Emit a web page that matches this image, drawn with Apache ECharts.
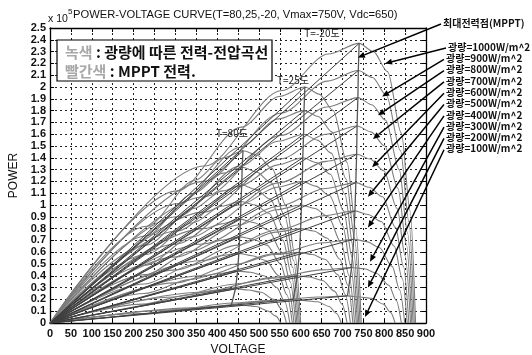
<!DOCTYPE html>
<html><head><meta charset="utf-8">
<script src="https://cdn.jsdelivr.net/npm/echarts@6/dist/echarts.min.js"></script>
<style>html,body{margin:0;padding:0;background:#fff}#c{width:532px;height:355px}</style>
</head><body><div id="c"></div>
<script>
// ---- data (power in units of 10^5 W) ----
var irradiance = ['1000','900','800','700','600','500','400','300','200','100'];
var irrLabels = ['광량=1000W/m^2','광량=900W/m^2','광량=800W/m^2','광량=700W/m^2','광량=600W/m^2','광량=500W/m^2','광량=400W/m^2','광량=300W/m^2','광량=200W/m^2','광량=100W/m^2'];
var yTicks = [0,0.1,0.2,0.3,0.4,0.5,0.6,0.7,0.8,0.9,1,1.1,1.2,1.3,1.4,1.5,1.6,1.7,1.8,1.9,2,2.1,2.2,2.3,2.4,2.5];

var vM20 = [
[0,370,555,666,740,774,808,841,862,875],
[0,369,554,664,738,772,805,839,859,872],
[0,369,553,663,737,770,803,836,856,869],
[0,368,551,662,735,768,801,833,853,866],
[0,367,551,661,734,766,799,831,850,863],
[0,366,549,659,732,764,796,827,846,859],
[0,365,548,657,730,761,793,824,843,855],
[0,364,545,654,727,758,788,819,837,849],
[0,361,542,650,722,752,782,811,829,841],
[0,356,534,641,712,741,769,798,815,826]];
var pM20 = [
[0,1.33,1.97,2.28,2.37,2.30,2.13,1.61,0.95,0],
[0,1.20,1.78,2.05,2.14,2.08,1.93,1.46,0.86,0],
[0,1.07,1.59,1.83,1.91,1.85,1.72,1.30,0.76,0],
[0,0.94,1.39,1.60,1.67,1.62,1.50,1.14,0.67,0],
[0,0.80,1.19,1.37,1.43,1.39,1.29,0.97,0.57,0],
[0,0.67,0.99,1.14,1.19,1.15,1.07,0.81,0.48,0],
[0,0.53,0.79,0.91,0.95,0.92,0.86,0.65,0.38,0],
[0,0.40,0.59,0.68,0.71,0.69,0.64,0.48,0.28,0],
[0,0.26,0.39,0.45,0.47,0.46,0.42,0.32,0.19,0],
[0,0.13,0.19,0.22,0.23,0.22,0.21,0.16,0.09,0]];

var v25 = [
[0,305,458,549,610,644,678,711,732,745],
[0,304,456,547,608,642,675,709,729,742],
[0,304,455,546,607,640,673,706,726,739],
[0,303,454,545,605,638,671,703,723,736],
[0,302,453,544,604,636,669,701,720,733],
[0,301,452,542,602,634,666,697,716,729],
[0,300,450,540,600,631,663,694,713,725],
[0,299,448,537,597,628,658,689,707,719],
[0,296,444,533,592,622,652,681,699,711],
[0,291,437,524,582,611,640,668,686,697]];
var p25 = [
[0,1.12,1.66,1.92,2.00,1.94,1.80,1.36,0.80,0],
[0,1.01,1.49,1.73,1.80,1.75,1.62,1.22,0.72,0],
[0,0.90,1.33,1.54,1.60,1.55,1.44,1.09,0.64,0],
[0,0.78,1.16,1.34,1.40,1.36,1.26,0.95,0.56,0],
[0,0.67,1.00,1.15,1.20,1.16,1.08,0.82,0.48,0],
[0,0.56,0.83,0.96,1.00,0.97,0.90,0.68,0.40,0],
[0,0.45,0.66,0.77,0.80,0.78,0.72,0.54,0.32,0],
[0,0.34,0.50,0.58,0.60,0.58,0.54,0.41,0.24,0],
[0,0.22,0.33,0.38,0.40,0.39,0.36,0.27,0.16,0],
[0,0.11,0.17,0.19,0.20,0.19,0.18,0.14,0.08,0]];

var v80 = [
[0,231,347,416,462,497,531,566,586,600],
[0,230,345,414,460,494,529,563,583,597],
[0,230,344,413,459,493,527,560,581,594],
[0,229,343,411,457,491,524,558,578,591],
[0,228,342,410,456,489,522,555,575,588],
[0,227,341,409,454,487,519,552,571,584],
[0,226,339,407,452,484,516,548,567,580],
[0,225,337,404,449,480,512,543,562,574],
[0,222,333,400,444,475,505,536,554,566],
[0,217,326,391,434,464,493,523,540,552]];
var p80 = [
[0,0.82,1.21,1.40,1.46,1.42,1.31,0.99,0.58,0],
[0,0.74,1.10,1.27,1.32,1.28,1.19,0.90,0.53,0],
[0,0.66,0.97,1.12,1.17,1.13,1.05,0.80,0.47,0],
[0,0.58,0.85,0.99,1.03,1.00,0.93,0.70,0.41,0],
[0,0.49,0.73,0.84,0.88,0.85,0.79,0.60,0.35,0],
[0,0.41,0.61,0.70,0.73,0.71,0.66,0.50,0.29,0],
[0,0.33,0.49,0.57,0.59,0.57,0.53,0.40,0.24,0],
[0,0.25,0.37,0.42,0.44,0.43,0.40,0.30,0.18,0],
[0,0.16,0.24,0.28,0.29,0.28,0.26,0.20,0.12,0],
[0,0.08,0.12,0.14,0.15,0.15,0.14,0.10,0.06,0]];

var mppIndex = 4; // position of the maximum power point in each curve list

// arrow heads (data coords) for the irradiance annotations, and for the MPPT label
var arrowHeadV = [802,795,785,773,771,761,761,766,761,754];
var arrowHeadP = [2.20,1.92,1.76,1.56,1.32,1.07,0.81,0.52,0.30,0.05];
var mpptHeadV = 737, mpptHeadP = 2.25;

// ---- chart ----
var GREEN = '#7c7c7c', RED = '#404040';
var chart = echarts.init(document.getElementById('c'), null, {renderer:'canvas'});
var series = [];
var families = [[vM20,pM20],[v25,p25],[v80,p80]];
families.forEach(function(f){
  var V=f[0], P=f[1];
  for (var i=0;i<V.length;i++){
    var d=[]; for (var k=0;k<V[i].length;k++) d.push([V[i][k],P[i][k]]);
    series.push({type:'line',data:d,showSymbol:false,symbol:'none',smooth:0.3,smoothMonotone:'x',
      lineStyle:{color:GREEN,width:1.1},silent:true,z:2});
  }
});
families.forEach(function(f){
  var V=f[0], P=f[1], locus=[];
  for (var i=0;i<V.length;i++){
    series.push({type:'line',data:[[V[i][0],P[i][0]],[V[i][mppIndex],P[i][mppIndex]]],symbol:'none',
      lineStyle:{color:RED,width:1},silent:true,z:3});
    locus.push([V[i][mppIndex],P[i][mppIndex]]);
  }
  series.push({type:'line',data:locus,symbol:'none',lineStyle:{color:'#555',width:1.3},silent:true,z:3});
});

var labelFont = {fontFamily:'"Liberation Sans",Arial,sans-serif',fontSize:11,fontWeight:'bold',color:'#111'};
var option = {
  animation:false,
  backgroundColor:'#fff',
  grid:{left:50,right:106,top:28,bottom:32,containLabel:false,outerBoundsMode:'none'},
  xAxis:[{type:'value',min:0,max:900,interval:50,position:'bottom',
      name:'VOLTAGE',nameLocation:'middle',nameGap:21,
      nameTextStyle:{fontFamily:'"Liberation Sans",Arial,sans-serif',fontSize:12,color:'#111'},
      axisLine:{onZero:false,lineStyle:{color:'#000',width:1.3}},
      axisTick:{inside:true,length:4,lineStyle:{color:'#000'}},
      axisLabel:Object.assign({margin:5,showMinLabel:true,showMaxLabel:true,hideOverlap:false,formatter:function(v){return String(v);}},labelFont),
      splitLine:{show:true,lineStyle:{color:'#222',type:[2,3],width:1}}},
    {type:'value',min:0,max:900,interval:50,position:'top',
      axisLine:{onZero:false,lineStyle:{color:'#000',width:1.3}},
      axisTick:{inside:true,length:4,lineStyle:{color:'#000'}},axisLabel:{show:false},splitLine:{show:false}}],
  yAxis:[{type:'value',min:0,max:2.5,interval:0.1,position:'left',
      name:'POWER',nameLocation:'middle',nameGap:28,nameRotate:90,
      nameTextStyle:{fontFamily:'"Liberation Sans",Arial,sans-serif',fontSize:12,color:'#111'},
      axisLine:{onZero:false,lineStyle:{color:'#000',width:1.3}},
      axisTick:{inside:true,length:4,customValues:yTicks,lineStyle:{color:'#000'}},
      axisLabel:Object.assign({margin:4,customValues:yTicks,showMinLabel:true,showMaxLabel:true,hideOverlap:false,formatter:function(v){return String(Math.round(v*10)/10);}},labelFont,{lineHeight:11}),
      splitLine:{show:true,lineStyle:{color:'#222',type:[2,3],width:1}}},
    {type:'value',min:0,max:2.5,interval:0.1,position:'right',
      axisLine:{onZero:false,lineStyle:{color:'#000',width:1.3}},
      axisTick:{inside:true,length:4,customValues:yTicks,lineStyle:{color:'#000'}},axisLabel:{show:false},splitLine:{show:false}}],
  series:series
};
chart.setOption(option);

// annotations
var kfont = '"Noto Sans CJK KR","Noto Sans",sans-serif';
var g = [];
g.push({type:'text',x:48,y:19,style:{text:'x 10',font:'10.5px "Liberation Sans",Arial,sans-serif',fill:'#111',verticalAlign:'middle'}});
g.push({type:'text',x:68,y:12,style:{text:'5',font:'8px "Liberation Sans",Arial,sans-serif',fill:'#111',verticalAlign:'middle'}});
g.push({type:'text',x:73,y:15,style:{text:'POWER-VOLTAGE CURVE(T=80,25,-20, Vmax=750V, Vdc=650)',font:'11.2px "Liberation Sans",Arial,sans-serif',fill:'#111',verticalAlign:'middle'}});
g.push({type:'rect',shape:{x:57,y:40,width:215,height:41},style:{fill:'#fff',stroke:'#000',lineWidth:1.2},z:50});
g.push({type:'text',x:65,y:52,z:51,style:{text:'{g|녹색} {b|: 광량에 따른 전력-전압곡선}',verticalAlign:'middle',
  rich:{g:{fontFamily:kfont,fontSize:15,fontWeight:'bold',fill:'#a8a8a8'},b:{fontFamily:kfont,fontSize:15,fontWeight:'bold',fill:'#111'}}}});
g.push({type:'text',x:65,y:71,z:51,style:{text:'{g|빨간색} {b|: MPPT 전력.}',verticalAlign:'middle',
  rich:{g:{fontFamily:kfont,fontSize:15,fontWeight:'bold',fill:'#a8a8a8'},b:{fontFamily:kfont,fontSize:15,fontWeight:'bold',fill:'#111'}}}});
g.push({type:'text',x:322,y:33,z:20,style:{text:'T=-20도',font:'10px '+kfont,fill:'#222',align:'center',verticalAlign:'middle'}});
g.push({type:'text',x:293,y:80,z:20,style:{text:'T=25도',font:'10px '+kfont,fill:'#222',align:'center',verticalAlign:'middle'}});
g.push({type:'text',x:232,y:133,z:20,style:{text:'T=80도',font:'10px '+kfont,fill:'#222',align:'center',verticalAlign:'middle'}});
g.push({type:'text',x:443,y:23,style:{text:'최대전력점(MPPT)',font:'bold 10px '+kfont,fill:'#111',verticalAlign:'middle'}});

function arrow(tail, head){
  var dx=head[0]-tail[0], dy=head[1]-tail[1], L=Math.sqrt(dx*dx+dy*dy), ux=dx/L, uy=dy/L;
  var al=7, aw=3;
  var bx=head[0]-ux*al, by=head[1]-uy*al;
  g.push({type:'line',z:60,shape:{x1:tail[0],y1:tail[1],x2:bx,y2:by},style:{stroke:'#000',lineWidth:1.5}});
  g.push({type:'polygon',z:60,shape:{points:[[head[0],head[1]],[bx-uy*aw,by+ux*aw],[bx+uy*aw,by-ux*aw]]},style:{fill:'#000'}});
}
arrow([441,24], chart.convertToPixel({gridIndex:0},[mpptHeadV,mpptHeadP]));
for (var i=0;i<irrLabels.length;i++){
  var y = 47 + i*11.3;
  g.push({type:'text',x:(i===0?448:446),y:y,style:{text:irrLabels[i],font:'bold 10px '+kfont,fill:'#111',verticalAlign:'middle'}});
  arrow([(i===0?446:444), y+1], chart.convertToPixel({gridIndex:0},[arrowHeadV[i],arrowHeadP[i]]));
}
chart.setOption({graphic:g});
</script></body></html>
